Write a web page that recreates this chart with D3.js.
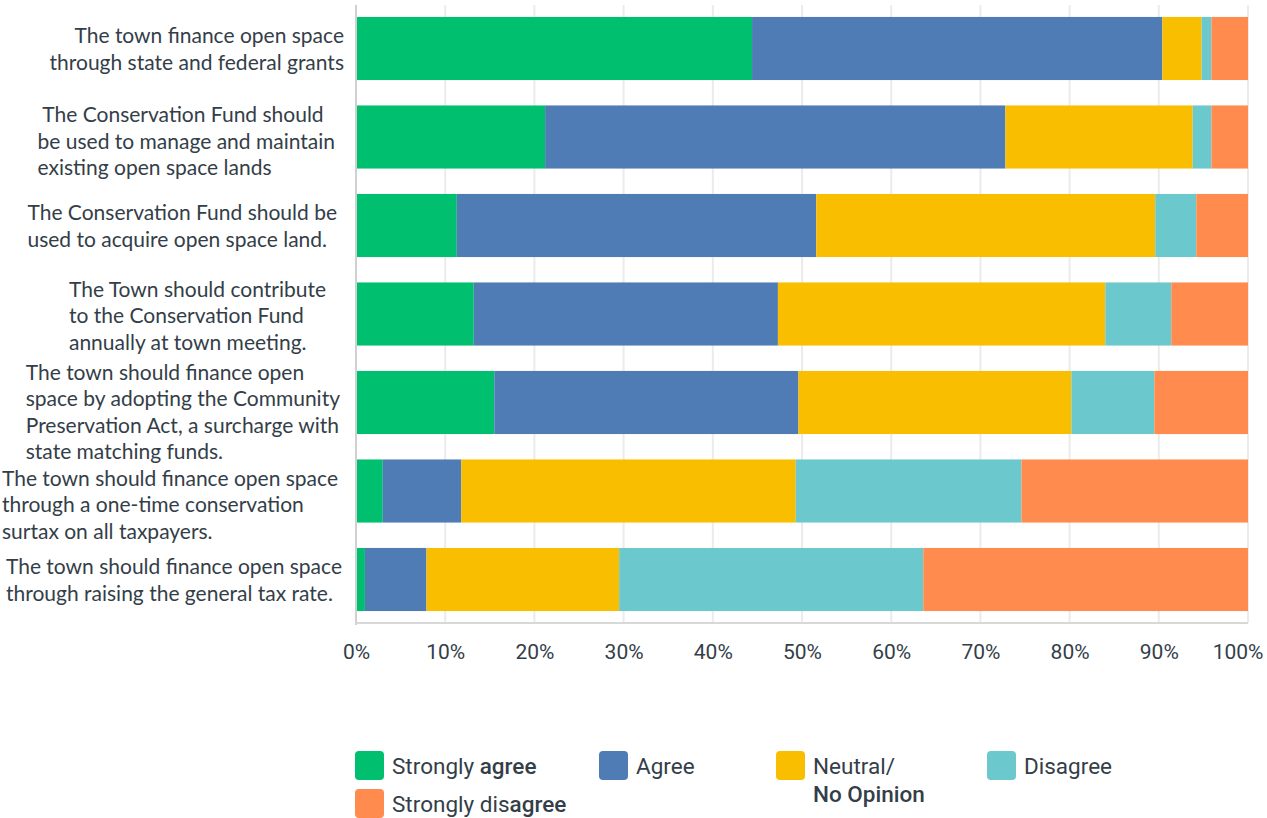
<!DOCTYPE html>
<html>
<head>
<meta charset="utf-8">
<script src="https://cdn.jsdelivr.net/npm/d3@7"></script>
<style>
  html, body { margin: 0; padding: 0; background: #fff; }
  svg { display: block; }
</style>
</head>
<body>
<svg id="chart" width="1267" height="818"></svg>
<script>
// ---------------- data ----------------
const categories = [
  ["The town finance open space", "through state and federal grants"],
  [" The Conservation Fund should", "be used to manage and maintain", "existing open space lands"],
  ["The Conservation Fund should be", "used to acquire open space land."],
  ["The Town should contribute", "to the Conservation Fund", "annually at town meeting."],
  ["The town should finance open", "space by adopting the Community", "Preservation Act, a surcharge with", "state matching funds."],
  ["The town should finance open space", "through a one-time conservation", "surtax on all taxpayers."],
  ["The town should finance open space", "through raising the general tax rate."]
];
const seriesNames = ["Strongly agree", "Agree", "Neutral/No Opinion", "Disagree", "Strongly disagree"];
const stronglyAgree    = [44.4, 21.2, 11.3, 13.2, 15.5, 3.0, 1.0];
const agree            = [46.0, 51.6, 40.3, 34.1, 34.1, 8.8, 6.9];
const neutral          = [4.4, 21.0, 38.0, 36.7, 30.6, 37.5, 21.6];
const disagree         = [1.1, 2.1, 4.6, 7.4, 9.3, 25.3, 34.1];
const stronglyDisagree = [4.1, 4.1, 5.8, 8.6, 10.5, 25.4, 36.4];
const tickValues = [0, 10, 20, 30, 40, 50, 60, 70, 80, 90, 100];
const tickLabels = ["0%", "10%", "20%", "30%", "40%", "50%", "60%", "70%", "80%", "90%", "100%"];

// ---------------- style / layout ----------------
const colors = ["#00bf6f", "#507cb6", "#f9be00", "#6bc8cd", "#ff8b4f"];
const textColor = "#333e48";
const labelFont = "Lato, 'Open Sans', sans-serif";
const tickFont = "Roboto, 'Noto Sans', sans-serif";
const labelRight = [344, 335, 337, 326, 340, 338, 342];
const labelShift = [0, 4, 0, 1, 9, 13, 0];
const lineH = 26.5;

const svg = d3.select("#chart");
const margin = {left: 356, right: 1267 - 1248, top: 5, bottom: 818 - 623};
const W = 1267, H = 818;

const x = d3.scaleLinear().domain([0, 100]).range([margin.left, W - margin.right]);
const y = d3.scaleBand().domain(d3.range(categories.length))
  .range([margin.top, H - margin.bottom]).paddingInner(0.287).paddingOuter(0.135);

const rows = d3.range(categories.length).map(i =>
  [stronglyAgree[i], agree[i], neutral[i], disagree[i], stronglyDisagree[i]]);

// gridlines
svg.append("g").selectAll("line").data(tickValues.slice(1)).join("line")
  .attr("x1", d => x(d)).attr("x2", d => x(d))
  .attr("y1", margin.top).attr("y2", H - margin.bottom)
  .attr("stroke", "#ebebeb").attr("stroke-width", 2);

// bars
const stack = d3.stack().keys(d3.range(5))(rows);
svg.append("g").selectAll("g").data(stack).join("g")
  .attr("fill", (d, i) => colors[i])
  .selectAll("rect").data(d => d.map((s, j) => ({s, j}))).join("rect")
  .attr("x", d => x(d.s[0]))
  .attr("width", d => x(d.s[1]) - x(d.s[0]))
  .attr("y", d => y(d.j))
  .attr("height", y.bandwidth());

// axis lines
svg.append("line").attr("x1", margin.left).attr("x2", margin.left)
  .attr("y1", margin.top).attr("y2", H - margin.bottom + 2)
  .attr("stroke", "#d0d0d0").attr("stroke-width", 2);
svg.append("line").attr("x1", margin.left).attr("x2", W - margin.right)
  .attr("y1", H - margin.bottom).attr("y2", H - margin.bottom)
  .attr("stroke", "#d8d8d8").attr("stroke-width", 2);

// x tick labels via d3 axis
const xAxis = d3.axisBottom(x).tickValues(tickValues)
  .tickFormat((d, i) => tickLabels[i]).tickSize(0).tickPadding(0);
const gx = svg.append("g").attr("transform", `translate(0, ${H - margin.bottom})`).call(xAxis);
gx.select(".domain").remove();
gx.selectAll("text")
  .attr("y", 36).attr("dy", 0)
  .attr("font-family", tickFont).attr("font-size", 21)
  .attr("fill", textColor);
gx.selectAll(".tick").filter(d => d === 100).select("text")
  .attr("text-anchor", "end").attr("x", 1263 - x(100));

// category labels
const lg = svg.append("g").attr("font-family", labelFont).attr("font-size", 21).attr("fill", textColor);
categories.forEach((lines, i) => {
  const cy = y(i) + y.bandwidth() / 2;
  const first = cy - (lines.length - 1) / 2 * lineH + 8 + labelShift[i];
  const t = lg.append("text").attr("xml:space", "preserve");
  const spans = lines.map((ln, k) => t.append("tspan").attr("y", first + k * lineH).text(ln));
  if (i === 0) {
    spans.forEach(s => s.attr("x", labelRight[i]).attr("text-anchor", "end"));
    t.attr("text-anchor", "end");
  } else {
    const maxW = d3.max(spans, s => s.node().getComputedTextLength());
    spans.forEach(s => s.attr("x", labelRight[i] - maxW));
  }
});

// legend
const legendItems = [
  {i: 0, x: 355, y: 751, parts: [[["Strongly ", 400], ["agree", 500]]]},
  {i: 1, x: 599, y: 751, parts: [[["Agree", 400]]]},
  {i: 2, x: 776, y: 751, parts: [[["Neutral/", 400]], [["No Opinion", 500]]]},
  {i: 3, x: 987, y: 751, parts: [[["Disagree", 400]]]},
  {i: 4, x: 355, y: 789, parts: [[["Strongly dis", 400], ["agree", 500]]]}
];
const leg = svg.append("g").attr("font-family", tickFont).attr("font-size", 22.5).attr("fill", textColor);
legendItems.forEach(it => {
  leg.append("rect").attr("x", it.x).attr("y", it.y).attr("width", 29).attr("height", 29)
    .attr("rx", 4).attr("fill", colors[it.i]);
  it.parts.forEach((line, k) => {
    const t = leg.append("text").attr("x", it.x + 37).attr("y", it.y + 23 + k * 28);
    line.forEach(([s, w]) => t.append("tspan").attr("font-weight", w).text(s));
  });
});
</script>
</body>
</html>
